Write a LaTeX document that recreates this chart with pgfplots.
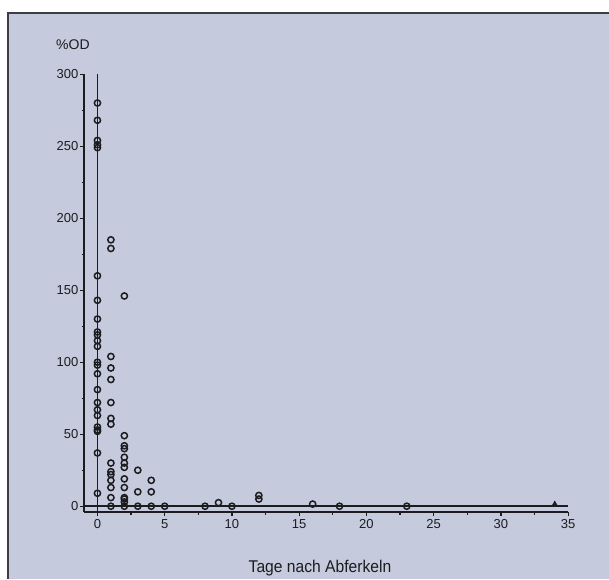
\documentclass[border=0pt]{standalone}
\usepackage{fontspec}
\setmainfont{Liberation Sans}
\newfontfamily\labelfont[FakeStretch=0.92]{Liberation Sans}
\usepackage{pgfplots}
\pgfplotsset{compat=1.18}
\definecolor{paper}{RGB}{197,202,220}
\definecolor{ink}{RGB}{28,28,32}

\pgfplotstableread{
x y
0 280
0 268
0 254
0 251
0 249
0 160
0 143
0 130
0 121
0 119
0 115
0 111
0 100
0 98
0 92
0 81
0 72
0 67
0 63
0 55
0 53
0 52
0 37
0 9
1 185
1 179
1 104
1 96
1 88
1 72
1 61
1 57
1 30
1 24
1 22
1 18
1 13
1 6
1 0
2 146
2 49
2 42
2 40
2 34
2 30
2 27
2 19
2 13
2 6
2 5
2 3
2 0
3 25
3 10
3 0
4 18
4 10
4 0
5 0
8 0
9 2.5
10 0
12 7.5
12 5
16 1.5
18 0
23 0
}\odpts

\begin{document}
\begin{tikzpicture}[x=1pt,y=1pt]
\useasboundingbox (0,0) rectangle (609,579);
\fill[white] (0,0) rectangle (609,579);
\fill[paper] (7,0) rectangle (609,566);
\draw[ink!85, line width=1.8pt] (7.9,0) -- (7.9,566) -- (609,566);
\begin{axis}[
  at={(84pt,67pt)}, anchor=south west,
  width=484.2pt, height=437.8pt, scale only axis,
  xmin=-1, xmax=35, ymin=-4, ymax=300,
  axis lines*=left,
  axis line style={ink, line width=1.5pt},
  xtick={0,5,...,35}, ytick={0,50,...,300},
  minor tick num=1,
  tick align=outside,
  major tick length=4pt, minor tick length=2.5pt,
  tick style={ink, line width=1.2pt},
  ticklabel style={font=\fontsize{13}{15}\selectfont, text=ink},
  /pgf/number format/assume math mode=true,
  yticklabel style={inner sep=1.5pt},
  clip=false,
]
\addplot[ink, line width=1.5pt] coordinates {(0,-4) (0,300)};
\addplot[ink, line width=1.5pt] coordinates {(-1,0) (35,0)};
\addplot[only marks, mark=o, mark size=3.1pt, mark options={ink, line width=1.5pt}] table {\odpts};
\addplot[only marks, mark=triangle*, mark size=3.8pt, ink] coordinates {(34,1)};
\end{axis}
\node[anchor=base west, inner sep=0, text=ink, font=\fontsize{14}{16}\selectfont] at (56,529) {\%OD};
\node[anchor=base, inner sep=0, text=ink, font=\labelfont\fontsize{17}{19}\selectfont] at (320,7) {Tage nach Abferkeln};
\end{tikzpicture}
\end{document}
